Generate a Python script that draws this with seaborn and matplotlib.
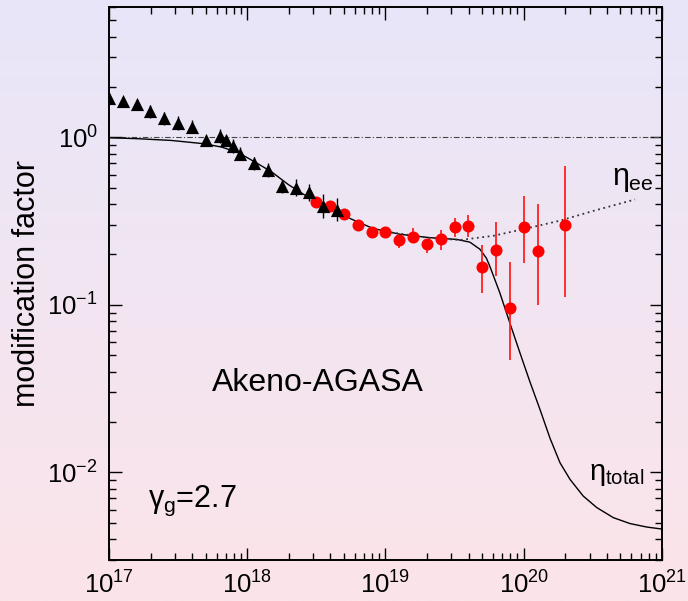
import numpy as np
import pandas as pd
import matplotlib
matplotlib.use("Agg")
import matplotlib.pyplot as plt
from matplotlib.ticker import LogLocator, NullFormatter, LogFormatterSciNotation
import seaborn as sns

# Akeno (triangles): energy [eV], modification factor, error half-width in dex
akeno_logE = [17.0, 17.1, 17.2, 17.3, 17.4, 17.5, 17.6, 17.7, 17.8, 17.85,
              17.9, 17.95, 18.05, 18.15, 18.25, 18.35, 18.45, 18.55, 18.65]
akeno_eta = [1.72, 1.64, 1.59, 1.43, 1.30, 1.22, 1.16, 0.97, 1.02, 0.96,
             0.89, 0.80, 0.70, 0.64, 0.51, 0.50, 0.47, 0.39, 0.37]
akeno_err = [0.03, 0.02, 0.02, 0.04, 0.04, 0.04, 0.04, 0.03, 0.04, 0.03,
             0.04, 0.04, 0.04, 0.04, 0.04, 0.05, 0.05, 0.07, 0.07]

# AGASA (circles): energy, modification factor, lower / upper error ends
agasa_logE = [18.5, 18.6, 18.7, 18.8, 18.9, 19.0, 19.1, 19.2, 19.3, 19.4,
              19.5, 19.6, 19.7, 19.8, 19.9, 20.0, 20.1, 20.3]
agasa_eta = [0.412, 0.388, 0.347, 0.299, 0.271, 0.272, 0.244, 0.255, 0.231, 0.249,
             0.292, 0.295, 0.168, 0.212, 0.096, 0.292, 0.210, 0.301]
agasa_lo = [0.412, 0.388, 0.347, 0.299, 0.271, 0.272, 0.218, 0.233, 0.203, 0.212,
            0.255, 0.255, 0.118, 0.149, 0.047, 0.179, 0.100, 0.111]
agasa_hi = [0.412, 0.388, 0.347, 0.299, 0.271, 0.272, 0.261, 0.286, 0.249, 0.279,
            0.328, 0.343, 0.228, 0.311, 0.180, 0.446, 0.399, 0.672]

# eta_total curve
total_logE = [17.0, 17.21, 17.45, 17.69, 17.815, 17.935, 18.056, 18.177, 18.297, 18.41,
              18.55, 18.743, 18.91, 19.105, 19.32, 19.515, 19.61, 19.683, 19.73, 19.756,
              19.828, 19.90, 19.973, 20.045, 20.118, 20.19, 20.262, 20.335, 20.43, 20.528,
              20.648, 20.769, 20.89, 21.0]
total_eta = [0.995, 0.982, 0.959, 0.916, 0.875, 0.811, 0.713, 0.622, 0.523, 0.456,
             0.400, 0.328, 0.286, 0.264, 0.252, 0.246, 0.237, 0.215, 0.190, 0.169,
             0.1175, 0.0778, 0.0516, 0.0347, 0.0237, 0.0160, 0.01143, 0.00908, 0.00723, 0.00617,
             0.00537, 0.00495, 0.00472, 0.00459]

# eta_ee curve (pair-production only), where it departs from eta_total
ee_logE = [19.0, 19.3, 19.54, 19.78, 20.02, 20.26, 20.503, 20.805]
ee_eta = [0.274, 0.252, 0.244, 0.2585, 0.286, 0.318, 0.364, 0.426]

sns.set_theme(style="ticks")
plt.rcParams["font.family"] = ["Liberation Sans", "DejaVu Sans"]
plt.rcParams["mathtext.fontset"] = "custom"
plt.rcParams["mathtext.rm"] = "Liberation Sans"
plt.rcParams["mathtext.it"] = "Liberation Sans"
plt.rcParams["mathtext.bf"] = "Liberation Sans:bold"
plt.rcParams["axes.unicode_minus"] = False

fig = plt.figure(figsize=(6.88, 6.01), dpi=100)

# vertical lavender-to-pink gradient behind everything
bg = fig.add_axes([0, 0, 1, 1], zorder=-10)
top_c = np.array([232, 230, 249]) / 255.0
bot_c = np.array([252, 228, 233]) / 255.0
t = np.linspace(0, 1, 256)[:, None, None]
grad = top_c[None, None, :] * (1 - t) + bot_c[None, None, :] * t
bg.imshow(grad, aspect="auto", extent=[0, 1, 0, 1])
bg.set_axis_off()

ax = fig.add_axes([0.1584, 0.0682, 0.8038, 0.9201])
ax.set_facecolor("none")
ax.set_xscale("log")
ax.set_yscale("log")

E_akeno = 10.0 ** np.array(akeno_logE)
E_agasa = 10.0 ** np.array(agasa_logE)
E_total = 10.0 ** np.array(total_logE)
E_ee = 10.0 ** np.array(ee_logE)

# reference line at unity
ax.axhline(1.0, color="#444444", lw=0.8, ls=(0, (5, 2, 1, 2)), zorder=1)

sns.lineplot(x=E_total, y=total_eta, ax=ax, estimator=None, sort=False,
             color="black", lw=1.0, zorder=2)
sns.lineplot(x=E_ee, y=ee_eta, ax=ax, estimator=None, sort=False,
             color="#333333", lw=1.3, ls=(0, (1, 2)), zorder=2)

# AGASA error bars and points
a_eta = np.array(agasa_eta)
ax.errorbar(E_agasa, a_eta,
            yerr=[a_eta - np.array(agasa_lo), np.array(agasa_hi) - a_eta],
            fmt="none", ecolor="#ff2020", elinewidth=1.3, capsize=0, zorder=3)
sns.scatterplot(x=E_agasa, y=a_eta, ax=ax, marker="o", s=75, color="#ff0000",
                linewidth=0, zorder=4)

# Akeno error bars and points
k_eta = np.array(akeno_eta)
k_err = np.array(akeno_err)
ax.errorbar(E_akeno, k_eta,
            yerr=[k_eta - k_eta * 10 ** (-k_err), k_eta * 10 ** k_err - k_eta],
            fmt="none", ecolor="black", elinewidth=1.0, capsize=0, zorder=5)
sns.scatterplot(x=E_akeno, y=k_eta, ax=ax, marker="^", s=90, color="black",
                linewidth=0, zorder=6)

ax.set_xlim(1e17, 1e21)
ax.set_ylim(3e-3, 6.0)

ax.xaxis.set_major_locator(LogLocator(base=10, numticks=10))
ax.xaxis.set_minor_locator(LogLocator(base=10, subs=np.arange(2, 10), numticks=50))
ax.yaxis.set_major_locator(LogLocator(base=10, numticks=10))
ax.yaxis.set_minor_locator(LogLocator(base=10, subs=np.arange(2, 10), numticks=50))
ax.xaxis.set_major_formatter(LogFormatterSciNotation())
ax.yaxis.set_major_formatter(LogFormatterSciNotation())
ax.xaxis.set_minor_formatter(NullFormatter())
ax.yaxis.set_minor_formatter(NullFormatter())

ax.tick_params(which="both", direction="in", top=True, right=True,
               color="black", width=1.0, labelsize=18.5, labelcolor="black")
ax.tick_params(which="major", length=9, pad=8)
ax.tick_params(which="minor", length=5)
for sp in ax.spines.values():
    sp.set_color("black")
    sp.set_linewidth(1.4)

ax.set_xlabel("")
ax.set_ylabel("modification factor", fontsize=22, color="black", labelpad=4)

ax.text(0.378, 0.320, "Akeno-AGASA", transform=ax.transAxes,
        ha="center", va="center", fontsize=23, color="black")
ax.text(0.0705, 0.0958, r"$\gamma_{\rm g}$=2.7", transform=ax.transAxes,
        ha="left", va="baseline", fontsize=22, color="black")
ax.text(0.9096, 0.678, r"$\eta_{\rm ee}$", transform=ax.transAxes,
        ha="left", va="baseline", fontsize=22, color="black")
ax.text(0.868, 0.1447, r"$\eta_{\rm total}$", transform=ax.transAxes,
        ha="left", va="baseline", fontsize=21, color="black")

fig.savefig("out.png", dpi=100)
